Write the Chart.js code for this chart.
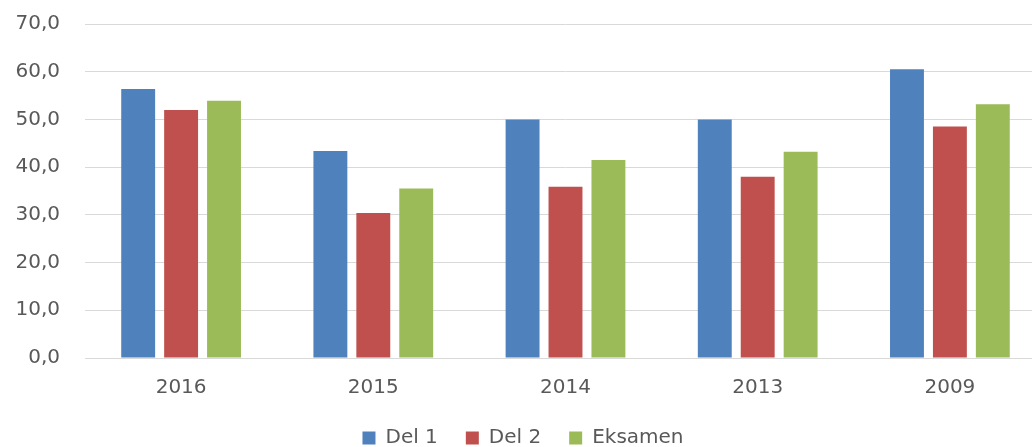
<!DOCTYPE html>
<html>
<head>
<meta charset="utf-8">
<script src="https://cdn.jsdelivr.net/npm/chart.js@4/dist/chart.umd.min.js"></script>
<style>
    html, body { margin: 0; padding: 0; background: #fff; overflow: hidden; }
    #wrap { width: 1046px; height: 447px; overflow: hidden; }
</style>
</head>
<body>
<div id="wrap"><canvas id="chart" width="1046" height="458"></canvas></div>
<script>
const years = ['2016', '2015', '2014', '2013', '2009'];
const del1 = [56.4, 43.4, 50.0, 50.0, 60.5];
const del2 = [52.0, 30.4, 35.9, 38.0, 48.5];
const eksamen = [53.9, 35.5, 41.5, 43.2, 53.2];
const yTicks = [0, 10, 20, 30, 40, 50, 60, 70];

const textColor = '#595959';
const font = { family: 'DejaVu Sans', size: 20 };

function bar(label, data, color) {
    return {
        label: label,
        data: data,
        backgroundColor: color,
        borderWidth: 0,
        categoryPercentage: 0.67,
        barPercentage: 0.79,
    };
}

new Chart(document.getElementById('chart').getContext('2d'), {
    type: 'bar',
    data: {
        labels: years,
        datasets: [
            bar('Del 1', del1, '#4F81BD'),
            bar('Del 2', del2, '#C0504D'),
            bar('Eksamen', eksamen, '#9BBB59'),
        ]
    },
    options: {
        responsive: false,
        animation: false,
        layout: { padding: { top: 24, left: 0, right: 0, bottom: 0 } },
        scales: {
            x: {
                grid: { display: false },
                border: { color: '#d9d9d9' },
                ticks: { color: textColor, font: font, padding: 10 },
                afterFit: axis => { axis.height = 42; }
            },
            y: {
                min: 0,
                max: 70,
                afterBuildTicks: axis => { axis.ticks = yTicks.map(v => ({ value: v })); },
                grid: { color: '#d9d9d9', drawTicks: false },
                border: { display: false },
                ticks: {
                    color: textColor,
                    font: font,
                    padding: 25,
                    callback: value => value.toFixed(1).replace('.', ',')
                },
                afterFit: axis => {
                    axis.width = 85;
                    axis.paddingTop = 0;
                    axis.paddingBottom = 0;
                }
            }
        },
        plugins: {
            legend: {
                position: 'bottom',
                labels: {
                    color: textColor,
                    font: font,
                    boxWidth: 13,
                    boxHeight: 13,
                    padding: 28
                }
            },
            tooltip: { enabled: false }
        }
    }
});
</script>
</body>
</html>
